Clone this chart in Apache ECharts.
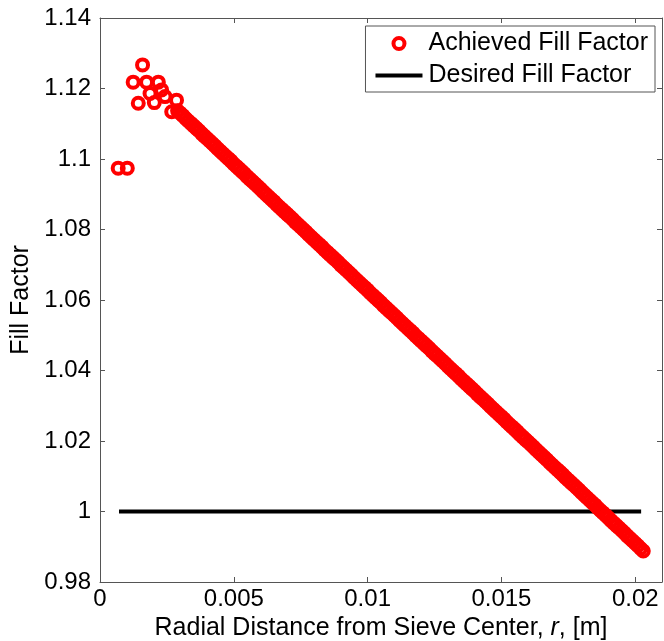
<!DOCTYPE html>
<html>
<head>
<meta charset="utf-8">
<script src="https://cdn.jsdelivr.net/npm/echarts@6/dist/echarts.min.js"></script>
<style>
html,body{margin:0;padding:0;background:#fff;}
#chart{width:664px;height:641px;}
</style>
</head>
<body>
<div id="chart"></div>
<script>
// Achieved fill factor: sparse points near the center
const rSparse = [0.00068, 0.00102, 0.00124, 0.00143, 0.00159, 0.00174, 0.00187, 0.00203, 0.00218, 0.00230, 0.00243, 0.00268, 0.00286];
const ffSparse = [1.0974, 1.0974, 1.1218, 1.1158, 1.1267, 1.1218, 1.1186, 1.1160, 1.1218, 1.1196, 1.1177, 1.1134, 1.1167];

// Achieved fill factor: dense band
const rDense = [
0.0029,0.0030,0.0031,0.0032,0.0033,0.0034,0.0035,0.0036,0.0037,0.0038,
0.0039,0.0040,0.0041,0.0042,0.0043,0.0044,0.0045,0.0046,0.0047,0.0048,
0.0049,0.0050,0.0051,0.0052,0.0053,0.0054,0.0055,0.0056,0.0057,0.0058,
0.0059,0.0060,0.0061,0.0062,0.0063,0.0064,0.0065,0.0066,0.0067,0.0068,
0.0069,0.0070,0.0071,0.0072,0.0073,0.0074,0.0075,0.0076,0.0077,0.0078,
0.0079,0.0080,0.0081,0.0082,0.0083,0.0084,0.0085,0.0086,0.0087,0.0088,
0.0089,0.0090,0.0091,0.0092,0.0093,0.0094,0.0095,0.0096,0.0097,0.0098,
0.0099,0.0100,0.0101,0.0102,0.0103,0.0104,0.0105,0.0106,0.0107,0.0108,
0.0109,0.0110,0.0111,0.0112,0.0113,0.0114,0.0115,0.0116,0.0117,0.0118,
0.0119,0.0120,0.0121,0.0122,0.0123,0.0124,0.0125,0.0126,0.0127,0.0128,
0.0129,0.0130,0.0131,0.0132,0.0133,0.0134,0.0135,0.0136,0.0137,0.0138,
0.0139,0.0140,0.0141,0.0142,0.0143,0.0144,0.0145,0.0146,0.0147,0.0148,
0.0149,0.0150,0.0151,0.0152,0.0153,0.0154,0.0155,0.0156,0.0157,0.0158,
0.0159,0.0160,0.0161,0.0162,0.0163,0.0164,0.0165,0.0166,0.0167,0.0168,
0.0169,0.0170,0.0171,0.0172,0.0173,0.0174,0.0175,0.0176,0.0177,0.0178,
0.0179,0.0180,0.0181,0.0182,0.0183,0.0184,0.0185,0.0186,0.0187,0.0188,
0.0189,0.0190,0.0191,0.0192,0.0193,0.0194,0.0195,0.0196,0.0197,0.0198,
0.0199,0.0200,0.0201,0.0202,0.0203
];
const ffDense = [
1.1137,1.1130,1.1123,1.1115,1.1108,1.1101,1.1094,1.1087,1.1080,1.1072,
1.1065,1.1058,1.1051,1.1044,1.1037,1.1029,1.1022,1.1015,1.1008,1.1001,
1.0994,1.0986,1.0979,1.0972,1.0965,1.0958,1.0950,1.0943,1.0936,1.0929,
1.0922,1.0915,1.0907,1.0900,1.0893,1.0886,1.0879,1.0871,1.0864,1.0857,
1.0850,1.0843,1.0836,1.0829,1.0821,1.0814,1.0807,1.0800,1.0793,1.0785,
1.0778,1.0771,1.0764,1.0757,1.0750,1.0742,1.0735,1.0728,1.0721,1.0714,
1.0707,1.0699,1.0692,1.0685,1.0678,1.0671,1.0663,1.0656,1.0649,1.0642,
1.0635,1.0628,1.0620,1.0613,1.0606,1.0599,1.0592,1.0584,1.0577,1.0570,
1.0563,1.0556,1.0549,1.0541,1.0534,1.0527,1.0520,1.0513,1.0506,1.0498,
1.0491,1.0484,1.0477,1.0470,1.0463,1.0455,1.0448,1.0441,1.0434,1.0427,
1.0420,1.0412,1.0405,1.0398,1.0391,1.0384,1.0376,1.0369,1.0362,1.0355,
1.0348,1.0341,1.0333,1.0326,1.0319,1.0312,1.0305,1.0297,1.0290,1.0283,
1.0276,1.0269,1.0262,1.0254,1.0247,1.0240,1.0233,1.0226,1.0218,1.0211,
1.0204,1.0197,1.0190,1.0183,1.0175,1.0168,1.0161,1.0154,1.0147,1.0139,
1.0132,1.0125,1.0118,1.0111,1.0104,1.0096,1.0089,1.0082,1.0075,1.0068,
1.0061,1.0053,1.0046,1.0039,1.0032,1.0025,1.0018,1.0010,1.0003,0.9996,
0.9989,0.9982,0.9974,0.9967,0.9960,0.9953,0.9946,0.9939,0.9931,0.9924,
0.9917,0.9910,0.9903,0.9895,0.9888
];

// Desired fill factor line
const rDesired = [0.00071, 0.02022];
const ffDesired = [1, 1];

const xTicks = [0, 0.005, 0.01, 0.015, 0.02];
const yTicks = [0.98, 1, 1.02, 1.04, 1.06, 1.08, 1.1, 1.12, 1.14];

const achievedData = [];
rSparse.forEach((r, i) => achievedData.push([r, ffSparse[i]]));
rDense.forEach((r, i) => achievedData.push([r, ffDense[i]]));
const desiredData = rDesired.map((r, i) => [r, ffDesired[i]]);

const FONT = "'Liberation Sans', Arial, Helvetica, sans-serif";
const AXIS_COLOR = '#555';

const chart = echarts.init(document.getElementById('chart'), null, {renderer: 'canvas'});

const baseX = {
  type: 'value', min: 0, max: 0.021, interval: 0.005,
  splitLine: {show: false},
  axisLine: {show: true, onZero: false, lineStyle: {color: AXIS_COLOR, width: 1}},
  axisTick: {show: true, inside: true, length: 5, lineStyle: {color: AXIS_COLOR}}
};
const baseY = {
  type: 'value', min: 0.98, max: 1.14, interval: 0.02,
  splitLine: {show: false},
  axisLine: {show: true, onZero: false, lineStyle: {color: AXIS_COLOR, width: 1}},
  axisTick: {show: true, inside: true, length: 5, lineStyle: {color: AXIS_COLOR}}
};

chart.setOption({
  animation: false,
  backgroundColor: '#fff',
  textStyle: {fontFamily: FONT},
  grid: {left: 100, right: 2, top: 18, bottom: 59, containLabel: false, outerBoundsMode: 'none'},
  legend: {
    orient: 'vertical',
    right: 9, top: 26,
    padding: [5, 7, 4, 10],
    itemGap: 7,
    itemWidth: 47, itemHeight: 11,
    backgroundColor: '#fff',
    borderColor: AXIS_COLOR, borderWidth: 1,
    textStyle: {fontFamily: FONT, fontSize: 25, color: '#000', padding: [0, 0, 0, 1]},
    data: [
      {name: 'Achieved Fill Factor', icon: 'circle', itemStyle: {color: 'rgba(0,0,0,0)', borderColor: '#ff0000', borderWidth: 4}},
      {name: 'Desired Fill Factor', icon: 'path://M0,0 L47,0 L47,4 L0,4 Z', itemStyle: {color: '#000', borderWidth: 0}}
    ]
  },
  xAxis: [
    Object.assign({}, baseX, {
      position: 'bottom',
      name: '{a|Radial Distance from Sieve Center, }{i|r}{a|, [m]}',
      nameLocation: 'middle', nameGap: 34,
      nameTextStyle: {
        rich: {
          a: {fontFamily: FONT, fontSize: 25, color: '#000'},
          i: {fontFamily: FONT, fontSize: 25, color: '#000', fontStyle: 'italic'}
        }
      },
      axisLabel: {
        show: true, margin: 5, fontFamily: FONT, fontSize: 24, color: '#000',
        showMaxLabel: false,
        formatter: v => (xTicks.indexOf(Math.round(v * 1000) / 1000) >= 0 ? String(Math.round(v * 1000) / 1000) : '')
      }
    }),
    Object.assign({}, baseX, {position: 'top', axisLabel: {show: false}})
  ],
  yAxis: [
    Object.assign({}, baseY, {
      position: 'left',
      name: 'Fill Factor',
      nameLocation: 'middle', nameGap: 62,
      nameTextStyle: {fontFamily: FONT, fontSize: 25, color: '#000'},
      axisLabel: {
        show: true, margin: 9, fontFamily: FONT, fontSize: 24, color: '#000',
        formatter: v => {
          const r = Math.round(v * 100) / 100;
          return yTicks.indexOf(r) >= 0 ? String(r) : '';
        }
      }
    }),
    Object.assign({}, baseY, {position: 'right', axisLabel: {show: false}})
  ],
  series: [
    {
      name: 'Achieved Fill Factor',
      type: 'scatter',
      xAxisIndex: 0, yAxisIndex: 0,
      symbol: 'circle',
      symbolSize: 11,
      itemStyle: {color: 'rgba(0,0,0,0)', borderColor: '#ff0000', borderWidth: 4, opacity: 1},
      emphasis: {disabled: true},
      data: achievedData,
      z: 2
    },
    {
      name: 'Desired Fill Factor',
      type: 'line',
      xAxisIndex: 0, yAxisIndex: 0,
      symbol: 'none',
      lineStyle: {color: '#000', width: 4},
      itemStyle: {color: '#000'},
      data: desiredData,
      z: 1
    }
  ]
});
</script>
</body>
</html>
